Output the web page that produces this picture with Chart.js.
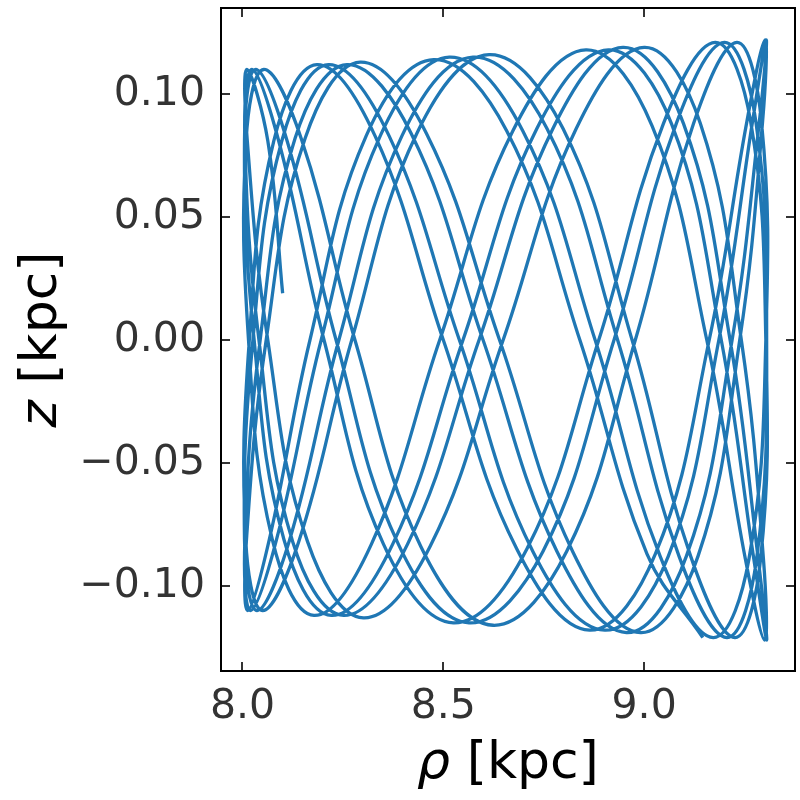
<!DOCTYPE html>
<html>
<head>
<meta charset="utf-8">
<title>orbit rho-z</title>
<script src="https://cdn.jsdelivr.net/npm/chart.js@4.4.1/dist/chart.umd.min.js"></script>
<style>
  html, body { margin: 0; padding: 0; background: #ffffff; }
  #wrap { width: 800px; height: 800px; }
</style>
</head>
<body>
<div id="wrap"><canvas id="orbit" width="800" height="800"></canvas></div>
<script>
'use strict';

// orbit samples (rho, z in kpc), in time order
var rhoVals = [8.100,
  8.063, 8.011, 8.012, 8.063, 8.162, 8.301, 8.467, 8.649, 8.831, 9.000, 9.140, 9.242, 9.297, 9.300, 9.252, 9.156,
  9.020, 8.855, 8.673, 8.491, 8.321, 8.178, 8.074, 8.015, 8.009, 8.053, 8.146, 8.280, 8.444, 8.624, 8.807, 8.978,
  9.123, 9.231, 9.292, 9.303, 9.261, 9.172, 9.040, 8.878, 8.698, 8.515, 8.343, 8.196, 8.085, 8.020, 8.006, 8.044,
  8.131, 8.260, 8.420, 8.599, 8.783, 8.956, 9.105, 9.219, 9.287, 9.304, 9.270, 9.186, 9.060, 8.902, 8.723, 8.540,
  8.365, 8.214, 8.098, 8.026, 8.005, 8.036, 8.116, 8.240, 8.397, 8.574, 8.758, 8.934, 9.087, 9.206, 9.280, 9.305,
  9.278, 9.200, 9.080, 8.925, 8.748, 8.564, 8.388, 8.233, 8.111, 8.033, 8.005, 8.029, 8.103, 8.221, 8.374, 8.549,
  8.733, 8.911, 9.068, 9.192, 9.273, 9.305, 9.284, 9.214, 9.098, 8.947, 8.773, 8.589, 8.411, 8.252, 8.125, 8.041,
  8.006, 8.023, 8.090, 8.203, 8.351, 8.525, 8.708, 8.887, 9.048, 9.177, 9.265, 9.303, 9.290, 9.226, 9.116, 8.970,
  8.798, 8.614, 8.434, 8.272, 8.140, 8.050, 8.008, 8.017, 8.078, 8.185, 8.330, 8.500, 8.683, 8.864, 9.028, 9.162,
  9.256, 9.301, 9.295, 9.238, 9.134, 8.991, 8.822, 8.640, 8.458, 8.293, 8.156, 8.059, 8.010, 8.013, 8.067, 8.168,
  8.308, 8.476, 8.658, 8.840, 9.007, 9.146];

var zVals = [0.019,
  0.081, 0.110, 0.081, 0, -0.082, -0.113, -0.084, 0, 0.086, 0.119, 0.088, 0, -0.089, -0.122, -0.089, 0,
  0.087, 0.118, 0.085, 0, -0.083, -0.112, -0.081, 0, 0.081, 0.110, 0.082, 0, -0.084, -0.116, -0.086, 0,
  0.088, 0.121, 0.089, 0, -0.089, -0.121, -0.088, 0, 0.085, 0.115, 0.083, 0, -0.081, -0.110, -0.081, 0,
  0.082, 0.112, 0.084, 0, -0.086, -0.119, -0.088, 0, 0.089, 0.122, 0.089, 0, -0.088, -0.118, -0.086, 0,
  0.083, 0.112, 0.081, 0, -0.081, -0.110, -0.082, 0, 0.083, 0.115, 0.086, 0, -0.088, -0.121, -0.089, 0,
  0.089, 0.121, 0.088, 0, -0.086, -0.115, -0.083, 0, 0.081, 0.110, 0.081, 0, -0.081, -0.112, -0.083, 0,
  0.086, 0.118, 0.088, 0, -0.089, -0.122, -0.089, 0, 0.088, 0.119, 0.086, 0, -0.083, -0.112, -0.082, 0,
  0.081, 0.110, 0.081, 0, -0.083, -0.115, -0.085, 0, 0.088, 0.121, 0.089, 0, -0.089, -0.121, -0.088, 0,
  0.086, 0.116, 0.084, 0, -0.082, -0.110, -0.081, 0, 0.081, 0.112, 0.083, 0, -0.085, -0.118, -0.087, 0,
  0.089, 0.122, 0.089, 0, -0.088, -0.119, -0.086, 0, 0.084, 0.113, 0.082, 0, -0.081, -0.110, -0.081, 0,
  0.083, 0.114, 0.085, 0, -0.087, -0.121];

// tick values and their labels
var xTicks = [8.0, 8.5, 9.0];
var xTickLabels = ['8.0', '8.5', '9.0'];
var yTicks = [-0.10, -0.05, 0.00, 0.05, 0.10];
var yTickLabels = ['\u22120.10', '\u22120.05', '0.00', '0.05', '0.10'];

var FONT = "'DejaVu Sans', 'Liberation Sans', sans-serif";

// frame, inward ticks and axis titles
var framePlugin = {
  id: 'frame',
  afterDraw: function(chart) {
    var ctx = chart.ctx;
    var a = chart.chartArea;
    var xs = chart.scales.x;
    var ys = chart.scales.y;
    var tl = 9;

    ctx.save();
    ctx.strokeStyle = '#333333';
    ctx.lineWidth = 2;
    ctx.beginPath();
    xTicks.forEach(function(v) {
      var px = Math.round(xs.getPixelForValue(v));
      ctx.moveTo(px, a.bottom); ctx.lineTo(px, a.bottom - tl);
      ctx.moveTo(px, a.top); ctx.lineTo(px, a.top + tl);
    });
    yTicks.forEach(function(v) {
      var py = Math.round(ys.getPixelForValue(v));
      ctx.moveTo(a.left, py); ctx.lineTo(a.left + tl, py);
      ctx.moveTo(a.right, py); ctx.lineTo(a.right - tl, py);
    });
    ctx.stroke();

    ctx.strokeStyle = '#000000';
    ctx.lineWidth = 2;
    ctx.strokeRect(a.left, a.top, a.right - a.left, a.bottom - a.top);

    // x title: italic rho + [kpc]
    ctx.fillStyle = '#000000';
    ctx.textBaseline = 'alphabetic';
    ctx.textAlign = 'left';
    var f1 = 'italic 52px ' + FONT;
    var f2 = '52px ' + FONT;
    ctx.font = f1; var w1 = ctx.measureText('\u03c1').width;
    ctx.font = f2; var w2 = ctx.measureText(' [kpc]').width;
    var cx = (a.left + a.right) / 2;
    var x0 = cx - (w1 + w2) / 2;
    ctx.font = f1; ctx.fillText('\u03c1', x0, 778);
    ctx.font = f2; ctx.fillText(' [kpc]', x0 + w1, 778);

    // y title: italic z + [kpc], rotated
    ctx.translate(56, (a.top + a.bottom) / 2);
    ctx.rotate(-Math.PI / 2);
    ctx.font = f1; var w3 = ctx.measureText('z').width;
    ctx.font = f2; var w4 = ctx.measureText(' [kpc]').width;
    var y0 = -(w3 + w4) / 2;
    ctx.font = f1; ctx.fillText('z', y0, 0);
    ctx.font = f2; ctx.fillText(' [kpc]', y0 + w3, 0);
    ctx.restore();
  }
};

var points = rhoVals.map(function(r, i) { return { x: r, y: zVals[i] }; });

var orbitChart = new Chart(document.getElementById('orbit'), {
  type: 'scatter',
  data: {
    datasets: [{
      data: points,
      showLine: true,
      borderColor: '#1f77b4',
      backgroundColor: '#1f77b4',
      borderWidth: 3.3,
      pointRadius: 0,
      tension: 0.4,
      fill: false
    }]
  },
  options: {
    responsive: false,
    animation: false,
    devicePixelRatio: 1,
    layout: { padding: { top: 8, right: 5, left: 0, bottom: 0 } },
    plugins: { legend: { display: false }, tooltip: { enabled: false } },
    scales: {
      x: {
        type: 'linear',
        min: 7.9465,
        max: 9.3756,
        grid: { display: false, drawTicks: false },
        border: { display: false },
        afterBuildTicks: function(s) { s.ticks = xTicks.map(function(v) { return { value: v }; }); },
        afterFit: function(s) { s.height = 129; s.paddingLeft = 0; s.paddingRight = 0; },
        ticks: {
          autoSkip: false,
          maxRotation: 0,
          padding: 12,
          color: '#333333',
          font: { family: FONT, size: 41 },
          callback: function(v, i) { return xTickLabels[i]; }
        }
      },
      y: {
        type: 'linear',
        min: -0.1346,
        max: 0.1350,
        grid: { display: false, drawTicks: false },
        border: { display: false },
        afterBuildTicks: function(s) { s.ticks = yTicks.map(function(v) { return { value: v }; }); },
        afterFit: function(s) { s.width = 221; s.paddingTop = 0; s.paddingBottom = 0; },
        ticks: {
          autoSkip: false,
          padding: 16,
          color: '#333333',
          font: { family: FONT, size: 41 },
          callback: function(v, i) { return yTickLabels[i]; }
        }
      }
    }
  },
  plugins: [framePlugin]
});
</script>
</body>
</html>
